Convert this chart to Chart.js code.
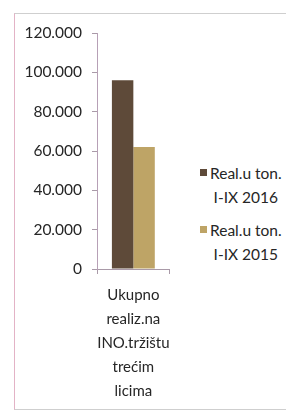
<!DOCTYPE html>
<html>
<head>
<meta charset="utf-8">
<script src="https://cdn.jsdelivr.net/npm/chart.js@4/dist/chart.umd.min.js"></script>
<style>
  html, body { margin: 0; padding: 0; background: #fff; }
  body { width: 286px; height: 415px; position: relative; overflow: hidden; font-family: Lato, sans-serif; }
  #frame {
    position: absolute; left: 14px; top: 13px; width: 290px; height: 395px;
    border-left: 1px solid #e3b3c6; border-top: 1px solid #cfcfcf; border-bottom: 1px solid #cfcfcf;
  }
  #wrap { position: absolute; left: 0; top: 0; width: 185px; height: 415px; }
  #legend { position: absolute; left: 200px; top: 161px; width: 90px; color: #262626; font-size: 15.5px; }
  .item { position: relative; margin-bottom: 9px; }
  .box { position: absolute; left: 0; top: 8px; width: 7px; height: 7px; }
  .txt { display: inline-block; margin-left: 10px; text-align: center; line-height: 24px; white-space: nowrap; }
</style>
</head>
<body>
<div id="frame"></div>
<div id="wrap"><canvas id="c"></canvas></div>
<div id="legend"></div>
<script>
const categories = [['Ukupno', 'realiz.na', 'INO.tržištu', 'trećim', 'licima']];
const seriesNames = [['Real.u ton.', 'I-IX 2016'], ['Real.u ton.', 'I-IX 2015']];
const real2016 = [96000];
const real2015 = [62000];
const seriesColors = ['#5e4a39', '#bea466'];
const yTicks = [0, 20000, 40000, 60000, 80000, 100000, 120000];

function fmt(v) {
  return String(v).replace(/\B(?=(\d{3})+(?!\d))/g, '.');
}

const chart = new Chart(document.getElementById('c'), {
  type: 'bar',
  data: {
    labels: categories,
    datasets: [
      { label: seriesNames[0].join(' '), data: real2016, backgroundColor: seriesColors[0] },
      { label: seriesNames[1].join(' '), data: real2015, backgroundColor: seriesColors[1] },
    ],
  },
  options: {
    responsive: true,
    maintainAspectRatio: false,
    animation: false,
    layout: { padding: { top: 33, right: 13, bottom: 0, left: 0 } },
    plugins: { legend: { display: false }, tooltip: { enabled: false } },
    datasets: { bar: { categoryPercentage: 0.59, barPercentage: 1.0 } },
    scales: {
      x: {
        offset: true,
        grid: { offset: true, drawOnChartArea: false, drawTicks: true, tickLength: 5, color: '#a99aa8' },
        border: { color: '#a99aa8' },
        ticks: { color: '#262626', padding: 9, font: { family: 'Lato', size: 15, lineHeight: 1.6 }, maxRotation: 0 },
        afterFit: (s) => { s.height = 146; },
      },
      y: {
        min: 0,
        max: 120000,
        afterBuildTicks: (s) => { s.ticks = yTicks.map((v) => ({ value: v })); },
        grid: { drawOnChartArea: false, drawTicks: true, tickLength: 5, color: '#a99aa8' },
        border: { color: '#b7a0b6' },
        ticks: { color: '#262626', padding: 10, font: { family: 'Lato', size: 15.5 }, callback: (v) => fmt(v) },
        afterFit: (s) => { s.width = 97; },
      },
    },
  },
});

const legendEl = document.getElementById('legend');
chart.data.datasets.forEach((ds, i) => {
  const item = document.createElement('div');
  item.className = 'item';
  const box = document.createElement('div');
  box.className = 'box';
  box.style.background = ds.backgroundColor;
  const txt = document.createElement('div');
  txt.className = 'txt';
  txt.innerHTML = seriesNames[i].map((t) => t.replace(/&/g, '&amp;')).join('<br>');
  item.appendChild(box);
  item.appendChild(txt);
  legendEl.appendChild(item);
});
</script>
</body>
</html>
